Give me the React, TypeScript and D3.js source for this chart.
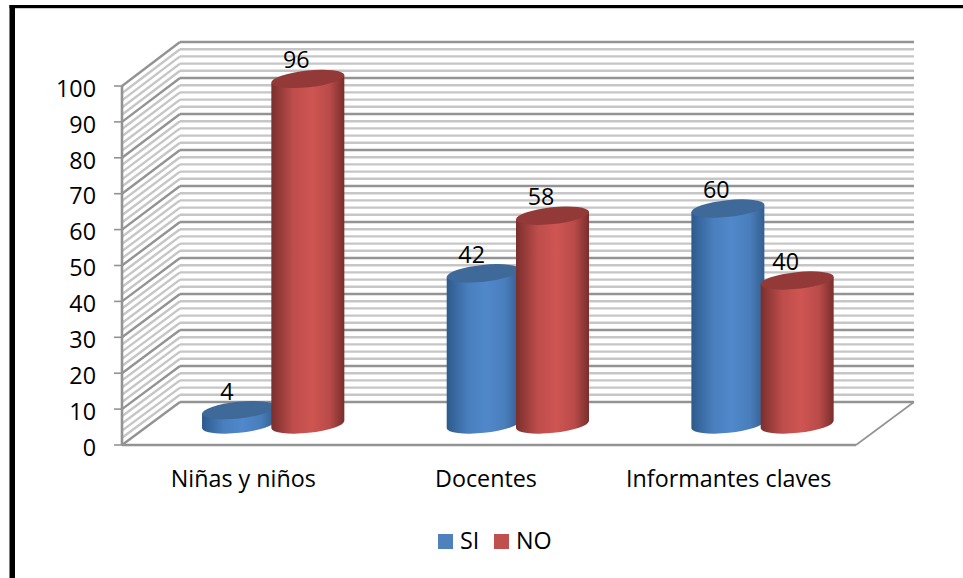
import React from "react";
import * as d3 from "d3";

const categories = ["Niñas y niños", "Docentes", "Informantes claves"];
const seriesNames = ["SI", "NO"];
const siValues = [4, 42, 60];
const noValues = [96, 58, 40];
const majorTicks = d3.range(0, 101, 10);
const minorTicks = d3.range(0, 101, 2).filter((v) => v % 10 !== 0);

const WIDTH = 963;
const HEIGHT = 578;
const FONT = "'Open Sans', Lato, sans-serif";
const FONT_SIZE = 23.3;

// Oblique projection of the chart box: front plane, back wall and the plane the cylinders stand on.
const yFront = d3.scaleLinear().domain([0, 100]).range([445, 86]);
const yBack = d3.scaleLinear().domain([0, 100]).range([402, 42]);
const yBar = d3.scaleLinear().domain([0, 100]).range([424.5, 64.5]);
const xBar = d3.scaleBand<string>().domain(categories).range([151, 885]);
const xLabel = d3.scaleBand<string>().domain(categories).range([122, 850]);

const RX = 36.7;
const RY = 8.4;
const TILT = -6;
const COS = Math.cos((TILT * Math.PI) / 180);
const SIN = Math.sin((TILT * Math.PI) / 180);
const SERIES_OFFSET = [-34.8, 34.5];
const LABEL_SHIFT = -11.5;

const palette = [
  { id: "gradSi", edgeL: "#2d5a8c", mid: "#5088cb", edgeR: "#345e90", top: "#3e6999", key: "#4f81bd" },
  { id: "gradNo", edgeL: "#7a2f2d", mid: "#cf5552", edgeR: "#782e2c", top: "#933a39", key: "#c0504d" },
];

function Cylinder({ cx, value, tone }: { cx: number; value: number; tone: (typeof palette)[number] }) {
  const dx = RX * COS;
  const dy = RX * SIN;
  const base = yBar(0);
  const top = yBar(value);
  const body = [
    `M${cx - dx},${top - dy}`,
    `L${cx - dx},${base - dy}`,
    `A${RX},${RY} ${TILT} 0 0 ${cx + dx},${base + dy}`,
    `L${cx + dx},${top + dy}`,
    "Z",
  ].join(" ");
  return (
    <g>
      <path d={body} fill={`url(#${tone.id})`} />
      <ellipse cx={cx} cy={top} rx={RX} ry={RY} fill={tone.top} transform={`rotate(${TILT} ${cx} ${top})`} />
    </g>
  );
}

export default function App() {
  return (
    <svg
      width={WIDTH}
      height={HEIGHT}
      viewBox={`0 0 ${WIDTH} ${HEIGHT}`}
      style={{ position: "absolute", left: 0, top: 0, background: "#fff" }}
      fontFamily={FONT}
    >
      <defs>
        {palette.map((t) => (
          <linearGradient key={t.id} id={t.id} x1="0" x2="1" y1="0" y2="0">
            <stop offset="0" stopColor={t.edgeL} />
            <stop offset="0.3" stopColor={d3.interpolateRgb(t.edgeL, t.mid)(0.8)} />
            <stop offset="0.55" stopColor={t.mid} />
            <stop offset="0.8" stopColor={d3.interpolateRgb(t.edgeR, t.mid)(0.75)} />
            <stop offset="1" stopColor={t.edgeR} />
          </linearGradient>
        ))}
      </defs>

      {/* page frame: only the top and left rules are present */}
      <rect x={9.5} y={5} width={WIDTH - 9.5} height={3.2} fill="#000" />
      <rect x={9.5} y={5} width={5.5} height={HEIGHT - 5} fill="#000" />

      {/* minor lines first, so the major ones sit on top */}
      {[...minorTicks, ...majorTicks].map((v) => {
        const major = v % 10 === 0;
        return (
          <g key={v} stroke={major ? "#939393" : "#c6c6c6"} strokeWidth={2.4} fill="none">
            <line x1={180} x2={914} y1={yBack(v)} y2={yBack(v)} />
            <line x1={122} x2={180} y1={yFront(v)} y2={yBack(v)} />
          </g>
        );
      })}

      {/* floor outline */}
      <line x1={122} x2={856} y1={yFront(0)} y2={yFront(0)} stroke="#939393" strokeWidth={2.6} />
      <line x1={856} x2={914} y1={yFront(0)} y2={yBack(0)} stroke="#939393" strokeWidth={1.6} />

      {/* value axis */}
      <line x1={122} x2={122} y1={yFront(100)} y2={yFront(0)} stroke="#939393" strokeWidth={2.6} />
      {majorTicks.map((v) => (
        <g key={v}>
          <line x1={114} x2={122} y1={yFront(v)} y2={yFront(v)} stroke="#939393" strokeWidth={1.6} />
          <text x={96} y={yFront(v) + 10.7} textAnchor="end" fontSize={FONT_SIZE} fill="#000">
            {v}
          </text>
        </g>
      ))}

      {/* cylinders, with the NO series in front of SI */}
      {categories.map((c, i) => {
        const center = (xBar(c) as number) + xBar.bandwidth() / 2;
        return (
          <g key={c}>
            <Cylinder cx={center + SERIES_OFFSET[0]} value={siValues[i]} tone={palette[0]} />
            <Cylinder cx={center + SERIES_OFFSET[1]} value={noValues[i]} tone={palette[1]} />
          </g>
        );
      })}

      {/* value labels */}
      {categories.map((c, i) => {
        const center = (xBar(c) as number) + xBar.bandwidth() / 2;
        return [siValues[i], noValues[i]].map((v, s) => (
          <text
            key={s}
            x={center + SERIES_OFFSET[s] + LABEL_SHIFT}
            y={yBar(v) - 10.5}
            textAnchor="middle"
            fontSize={FONT_SIZE}
            fill="#000"
          >
            {v}
          </text>
        ));
      })}

      {/* category labels */}
      {categories.map((c) => (
        <text
          key={c}
          x={(xLabel(c) as number) + xLabel.bandwidth() / 2}
          y={487}
          textAnchor="middle"
          fontSize={FONT_SIZE}
          fill="#000"
        >
          {c}
        </text>
      ))}

      {/* legend */}
      {seriesNames.map((name, i) => {
        const x = 438 + i * 56;
        return (
          <g key={name}>
            <rect x={x} y={534} width={15} height={15} fill={palette[i].key} />
            <text x={x + 22} y={549} fontSize={FONT_SIZE} fill="#000">
              {name}
            </text>
          </g>
        );
      })}
    </svg>
  );
}
